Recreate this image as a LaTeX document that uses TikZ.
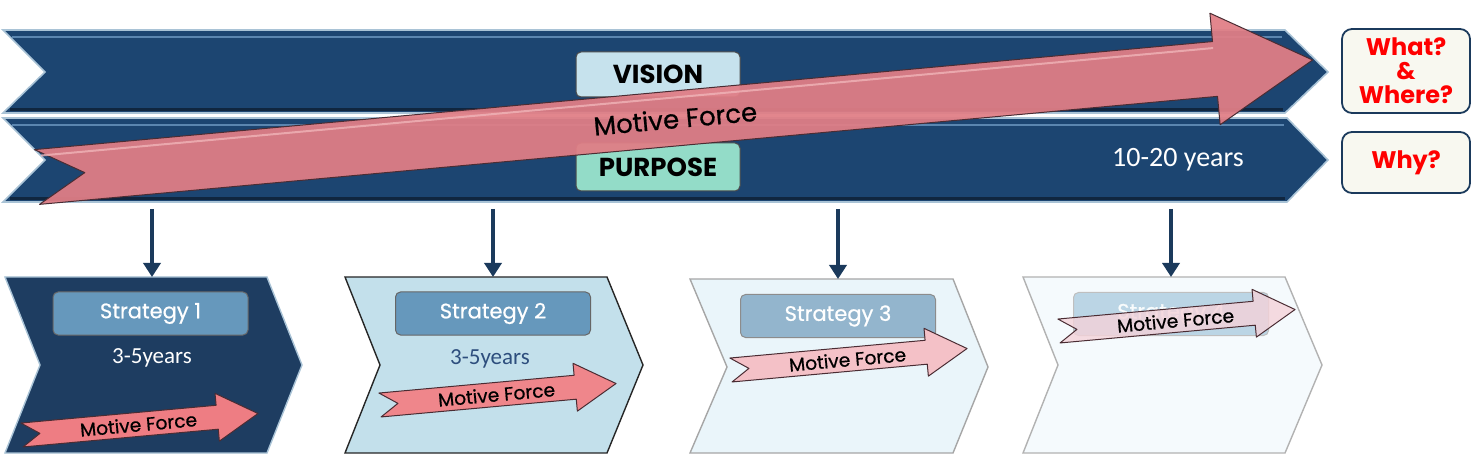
\documentclass[tikz,border=0pt]{standalone}
\usepackage{fontspec}
\usepackage{xcolor}
\usepackage{tikz}
\usetikzlibrary{arrows.meta}

\newfontfamily\popfont{Poppins}
\newfontfamily\popmed{Poppins}[FakeBold=0.7]
\newfontfamily\calfont{Carlito}

\definecolor{bandblue}{HTML}{1C4571}
\definecolor{bandedge}{HTML}{A9C3D6}
\definecolor{bandlight}{HTML}{5B86B0}
\definecolor{bandshade}{HTML}{10263F}
\definecolor{visionfill}{HTML}{C6E2ED}
\definecolor{purposefill}{HTML}{93DCC8}
\definecolor{forcepink}{HTML}{E07E86}
\definecolor{forcehigh}{HTML}{F0B4B8}
\definecolor{forceedge}{HTML}{4A2C33}
\definecolor{askfill}{HTML}{F8F8F0}
\definecolor{askred}{HTML}{FF0000}
\definecolor{chevA}{HTML}{1E3D61}
\definecolor{chevB}{HTML}{C3E0EB}
\definecolor{chevC}{HTML}{EAF5FA}
\definecolor{chevD}{HTML}{F5FAFD}
\definecolor{stratA}{HTML}{6698BC}
\definecolor{stratC}{HTML}{93B5CD}
\definecolor{stratD}{HTML}{BBD5E5}
\definecolor{mfA}{HTML}{EE7D83}
\definecolor{mfB}{HTML}{EF868B}
\definecolor{mfC}{HTML}{F4C1C7}
\definecolor{mfD}{HTML}{F4D2D9}
\definecolor{yearsblue}{HTML}{2D4E7D}
\definecolor{downblue}{HTML}{1B3A5C}

\tikzset{
  band/.style={fill=bandblue, draw=bandedge, line width=0.8pt},
  label box/.style={draw=black!70, rounded corners=2.5pt, line width=0.5pt,
    minimum width=82pt, inner sep=0pt, font=\popfont\bfseries\fontsize{13}{15}\selectfont},
  ask box/.style={draw=downblue, fill=askfill, rounded corners=5pt, line width=0.9pt,
    minimum width=64pt, inner sep=0pt, align=center, text=askred,
    font=\popfont\bfseries\fontsize{12}{12}\selectfont},
  strat box/.style={rounded corners=2.5pt, line width=0.5pt, minimum width=97.5pt,
    minimum height=21.5pt, inner sep=0pt, text=white, font=\popmed\fontsize{10.5}{12}\selectfont},
  chevron/.style={line width=0.7pt},
  force/.style={draw=forceedge, line width=0.5pt, line join=round},
  force text/.style={font=\popmed\fontsize{9.3}{11}\selectfont, inner sep=0pt},
  down arrow/.style={draw=downblue, line width=2pt, -{Triangle[width=8.5pt,length=7pt]}}
}

\begin{document}
\begin{tikzpicture}[x=0.5pt,y=-0.5pt]
	\useasboundingbox (0,0) rectangle (1475,464);
	
	% long term bands
	\draw[band] (3,30) -- (1285,30) -- (1328,72) -- (1285,113) -- (3,113) -- (45,72) -- cycle;
	\draw[band] (3,118) -- (1287,118) -- (1328,160) -- (1287,202) -- (3,202) -- (45,160) -- cycle;
	\draw[bandlight, line width=1pt] (12,37) -- (1282,37);
	\draw[bandlight, line width=1pt] (12,125) -- (1284,125);
	\draw[bandshade, line width=1.5pt] (10,110) -- (1283,110);
	\draw[bandshade, line width=1.5pt] (10,199) -- (1285,199);
	
	\node[label box, fill=visionfill, minimum height=22.5pt] (vision) at (658,74.5) {VISION};
	\node[label box, fill=purposefill, minimum height=24pt] (purpose) at (658,167) {PURPOSE};
	\node[text=white, font=\calfont\fontsize{14}{16}\selectfont] (longterm) at (1178,160) {10-20 years};
	
	% big motive force arrow
	\begin{scope}[shift={(37,177)}, rotate=5.24]
		\draw[force, fill=forcepink, fill opacity=0.94] (0,-27.5) -- (1183,-27.5) -- (1183,-56) -- (1281,0)
			-- (1183,56) -- (1183,27.5) -- (0,27.5) -- (48,0) -- cycle;
		\draw[forcehigh, line width=1pt, opacity=0.8] (6,-21) -- (1183,-21);
		\node[font=\popmed\fontsize{13}{15}\selectfont, rotate=5.24] (bigforce) at (641,0) {Motive Force};
	\end{scope}
	
	\node[ask box, minimum height=42pt] (whatbox) at (1406,71) {What?\\\&\\Where?};
	\node[ask box, minimum height=30.5pt] (whybox) at (1406,162.5) {Why?};
	
	% strategy chevrons
	\draw[chevron, fill=chevA, draw=bandedge] (5,277) -- (267,277) -- (302,365) -- (267,453) -- (5,453) -- (40,365) -- cycle;
	\draw[chevron, fill=chevB, draw=black!85] (345,277) -- (607,277) -- (643,365) -- (607,453) -- (345,453) -- (380,365) -- cycle;
	\draw[chevron, fill=chevC, draw=black!35] (690,279) -- (953,279) -- (988,367) -- (953,453) -- (690,453) -- (727,367) -- cycle;
	\draw[chevron, fill=chevD, draw=black!30] (1023,277) -- (1285,277) -- (1322,365) -- (1285,453) -- (1023,453) -- (1058,365) -- cycle;
	
	\coordinate (ch1) at (152,277);
	\coordinate (ch2) at (493,277);
	\coordinate (ch3) at (838,279);
	\coordinate (ch4) at (1171,277);
	\coordinate (dn1) at (152,209);
	\coordinate (dn2) at (493,209);
	\coordinate (dn3) at (838,209);
	\coordinate (dn4) at (1171,209);
	
	\draw[down arrow] (dn1) -- (ch1);
	\draw[down arrow] (dn2) -- (ch2);
	\draw[down arrow] (dn3) -- (ch3);
	\draw[down arrow] (dn4) -- (ch4);
	
	\node[strat box, fill=stratA, draw=black!60] (strat1) at (150.5,313.5) {Strategy 1};
	\node[strat box, fill=stratA, draw=black!60] (strat2) at (493,313.5) {Strategy 2};
	\node[strat box, fill=stratC, draw=black!45] (strat3) at (838,316) {Strategy 3};
	\node[strat box, fill=stratD, draw=black!25, text=white!90!stratD] (strat4) at (1171,314) {Strategy 4};
	
	\node[text=white, font=\calfont\fontsize{11.5}{13}\selectfont] (yrs1) at (152,358) {3-5years};
	\node[text=yearsblue, font=\calfont\fontsize{11.5}{13}\selectfont] (yrs2) at (490,359) {3-5years};
	
	% small motive force arrows
	\foreach \tx/\ty/\col/\op [count=\i] in {22/435/mfA/1, 380/405/mfB/1, 731/370/mfC/1, 1059/331/mfD/0.8} {
		\begin{scope}[shift={(\tx,\ty)}, rotate=5.2]
			\draw[force, fill=\col, fill opacity=\op] (0,-12) -- (196,-12) -- (196,-24) -- (237,0)
				-- (196,24) -- (196,12) -- (0,12) -- (18,0) -- cycle;
			\node[force text, rotate=5.2] (mf\i) at (117,0) {Motive Force};
		\end{scope}
	}
\end{tikzpicture}
\end{document}
